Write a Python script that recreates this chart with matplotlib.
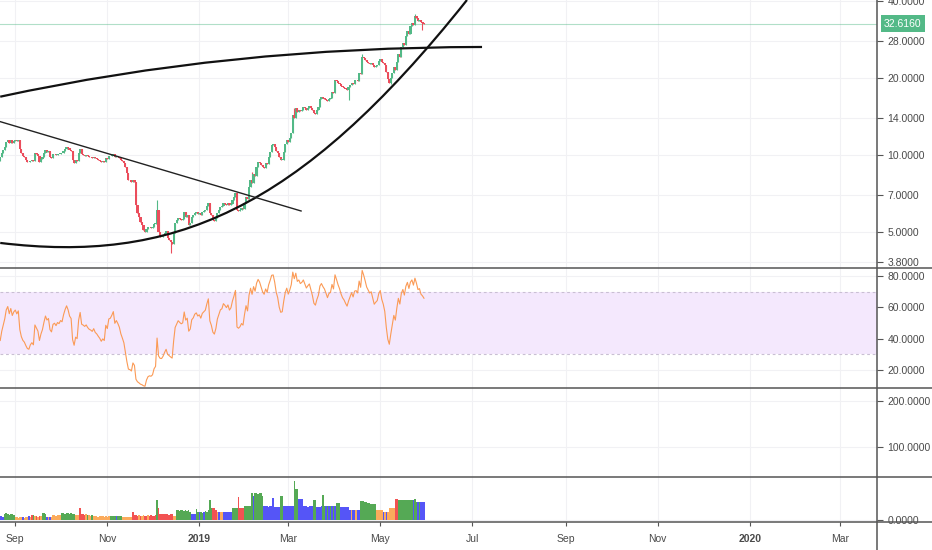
import numpy as np
import matplotlib
matplotlib.use('Agg')
import matplotlib.pyplot as plt
import matplotlib.dates as mdates
from matplotlib.path import Path
from matplotlib.patches import PathPatch
from matplotlib.lines import Line2D
from matplotlib.ticker import NullLocator, FixedLocator, FixedFormatter

plt.rcParams['font.family'] = ['Liberation Sans', 'DejaVu Sans']

# ---------------- data ----------------
start = np.datetime64('2018-08-22')

closes = [
    9.83, 10.19, 10.47, 10.76, 11.25, 11.45, 11.15, 11.45, 11.15, 11.35,
    11.45, 11.30, 11.45, 10.60, 10.19, 9.95, 9.83, 9.60, 9.40, 9.35,
    9.50, 9.57, 9.45, 10.19, 10.05, 9.90, 9.40, 9.65, 9.83, 10.15,
    10.45, 10.28, 10.35, 9.85, 9.74, 10.05, 10.10, 10.00, 10.12, 10.08,
    10.19, 10.15, 10.40, 10.60, 10.76, 10.65, 10.47, 10.40, 9.60, 9.31,
    9.57, 9.50, 10.20, 10.57, 10.05, 10.01, 9.95, 10.01, 9.90, 9.83,
    9.80, 9.75, 9.83, 9.70, 9.65, 9.57, 9.50, 9.40, 9.45, 9.40,
    9.74, 9.65, 9.90, 9.92, 10.00, 10.10, 9.83, 9.90, 9.83, 9.74,
    9.57, 9.45, 9.31, 8.98, 8.51, 7.99, 7.95, 7.84, 8.00, 7.84,
    6.40, 5.95, 5.73, 5.45, 5.33, 5.10, 5.00, 5.15, 5.23, 5.25,
    5.20, 5.23, 5.35, 5.40, 6.10, 5.00, 4.80, 4.78, 4.85, 4.96,
    5.05, 4.74, 4.65, 4.57, 4.50, 4.96, 5.42, 5.55, 5.68, 5.62,
    5.57, 5.60, 5.99, 5.73, 5.80, 5.33, 5.40, 5.73, 5.80, 5.94,
    5.99, 5.90, 5.94, 5.85, 6.00, 6.05, 6.10, 6.30, 6.49, 5.94,
    5.80, 5.57, 5.50, 5.65, 5.94, 6.10, 6.26, 6.30, 6.49, 6.45,
    6.40, 6.49, 6.38, 6.45, 6.67, 6.85, 7.09, 6.10, 6.05, 6.10,
    6.20, 6.15, 6.50, 6.85, 6.70, 7.50, 7.99, 7.80, 8.40, 8.25,
    8.98, 9.40, 9.31, 9.14, 8.98, 8.90, 9.31, 9.20, 9.83, 10.30,
    10.95, 11.00, 10.76, 10.40, 10.19, 9.80, 9.57, 9.60, 10.28, 11.00,
    11.45, 11.20, 11.60, 12.20, 14.34, 14.00, 15.20, 14.73, 15.00, 14.80,
    15.00, 15.41, 15.20, 15.00, 15.30, 15.55, 15.27, 15.00, 14.60, 14.50,
    15.00, 15.41, 16.50, 16.86, 16.71, 16.60, 16.41, 16.20, 16.60, 16.70,
    17.60, 17.40, 19.65, 19.40, 19.12, 18.90, 18.61, 18.40, 18.28, 18.10,
    17.95, 18.40, 18.78, 19.20, 19.00, 19.60, 19.65, 19.55, 21.00, 20.70,
    24.20, 23.90, 23.52, 23.10, 22.89, 22.70, 22.89, 22.50, 22.08, 22.30,
    22.48, 23.30, 23.73, 23.20, 22.89, 22.40, 21.11, 19.80, 19.12, 20.00,
    20.92, 22.00, 21.50, 23.10, 24.80, 24.20, 26.44, 27.41, 26.80, 29.20,
    30.50, 29.80, 31.94, 32.81, 32.20, 34.95, 34.32, 33.50, 33.80, 33.11,
    32.90, 32.616,
]
# closes before the visible window (only used to seed the RSI)
pre_closes = [11.2, 11.0, 11.3, 10.9, 10.6, 10.8, 10.4, 10.2, 10.5, 10.1,
              9.9, 10.2, 10.4, 10.1, 10.3, 10.0, 9.7, 9.5, 9.35, 9.45]
first_open = 9.45
wick_high = {104: 6.67, 167: 8.60, 275: 35.6, 195: 15.3, 240: 24.9}
wick_low = {113: 4.13, 231: 16.4, 280: 30.8, 259: 18.9}

volumes = [
    4, 4, 3, 6, 7, 6, 5, 6, 6, 5,
    3, 3, 2, 3, 3, 3, 2, 3, 3, 4,
    3, 5, 5, 4, 4, 3, 4, 4, 7, 7,
    6, 3, 3, 3, 3, 5, 5, 4, 5, 5,
    5, 7, 7, 6, 7, 7, 6, 7, 6, 6,
    5, 5, 5, 12, 6, 6, 5, 6, 5, 5,
    4, 5, 4, 4, 4, 3, 4, 4, 4, 3,
    4, 3, 4, 4, 4, 4, 4, 4, 4, 4,
    4, 3, 3, 3, 3, 3, 3, 3, 8, 5,
    5, 4, 5, 4, 4, 5, 4, 4, 5, 4,
    5, 4, 4, 5, 20, 12, 6, 6, 6, 6,
    6, 6, 5, 6, 6, 4, 4, 10, 10, 9,
    10, 10, 9, 10, 9, 10, 8, 6, 6, 6,
    11, 8, 8, 8, 7, 8, 9, 8, 10, 20,
    12, 12, 12, 10, 8, 8, 8, 8, 8, 8,
    8, 8, 8, 8, 12, 12, 12, 12, 23, 12,
    12, 12, 14, 14, 14, 14, 14, 27, 24, 27,
    27, 26, 27, 27, 24, 14, 14, 14, 13, 14,
    14, 22, 13, 13, 13, 13, 24, 24, 14, 14,
    14, 14, 14, 14, 14, 39, 31, 31, 21, 21,
    21, 14, 14, 14, 13, 14, 14, 14, 20, 20,
    13, 13, 13, 14, 25, 14, 14, 14, 14, 14,
    14, 14, 14, 17, 17, 17, 13, 13, 13, 13,
    13, 13, 10, 10, 10, 10, 10, 10, 10, 19,
    19, 19, 18, 18, 17, 17, 16, 16, 16, 16,
    10, 10, 10, 10, 8, 8, 8, 8, 12, 12,
    12, 12, 21, 21, 20, 20, 20, 20, 20, 20,
    20, 20, 20, 20, 20, 21, 18, 18, 18, 18,
    18, 18,
]
vol_colors = ("BBBGGGGGGG" "OOOOOBOOOB" "ORGOROROGG" "GBOBOOOOOO" "OGGGGGGGGG"
              "OOORRRROGO" "OGOOOOOOOO" "OOOGGGGBGG" "GOOOOOOORR" "RROROORROR"
              "RRRRGRRRRR" "RRRRROOGGG" "GGGGGGGBBB" "GGBGGBGGGG" "GRRROBOOBB"
              "BBBBGGGGRR" "RRGGGGGGBG" "GGGGGBBBBB" "BBBBBBGGBB" "BBBBBGGGBB"
              "BBBBBBBBGG" "BBBBGGBGBG" "BGBGGGBBBB" "BBBOBBOBBG" "GGGGGGGGGG"
              "OOOOBOBOOO" "OORRGGGGGG" "GGGGBGGBGB" "BB")

price_ticks = [40, 28, 20, 14, 10, 7, 5, 3.8]
price_labels = ['40.0000', '28.0000', '20.0000', '14.0000', '10.0000',
                '7.0000', '5.0000', '3.8000']
rsi_ticks = [80, 60, 40, 20]
rsi_labels = ['80.0000', '60.0000', '40.0000', '20.0000']
rsi_band = [30, 70]
pane3_ticks = [200, 100]
pane3_labels = ['200.0000', '100.0000']
vol_ticks = [0]
vol_labels = ['0.0000']
month_ticks = ['2018-09-01', '2018-11-01', '2019-01-01', '2019-03-01',
               '2019-05-01', '2019-07-01', '2019-09-01', '2019-11-01',
               '2020-01-01', '2020-03-01']
month_labels = ['Sep', 'Nov', '2019', 'Mar', 'May', 'Jul', 'Sep', 'Nov',
                '2020', 'Mar']
last_price = 32.616

# drawings (date, price anchors)
upper_arc_dates = ['2018-08-22T00:00', '2019-01-20T17:00', '2019-07-07T12:00']
upper_arc_prices = [16.9, 26.44, 26.44]
lower_arc_dates = ['2018-08-22T00:00', '2018-12-12T14:00', '2019-03-06T19:00',
                   '2019-06-27T12:00']
lower_arc_prices = [4.53, 3.77, 5.88, 40.36]
trend_dates = ['2018-08-22T00:00', '2019-03-09T12:00']
trend_prices = [13.5, 6.04]

# ---------------- styling ----------------
UP, DOWN = '#53b987', '#eb4d5c'
VOLC = {'G': '#55a955', 'R': '#f25252', 'B': '#5555f7', 'O': '#fbab5c'}
TXT = '#4a4a4a'
SEP = '#555555'
GRID = '#f1f1f4'
FS = 7.5

W, H = 932, 550
fig = plt.figure(figsize=(W / 100, H / 100), dpi=100)
fig.patch.set_facecolor('white')


def rect(x0, y0, x1, y1):
    return [x0 / W, 1 - y1 / H, (x1 - x0) / W, (y1 - y0) / H]


ax_p = fig.add_axes(rect(0, 0, 877, 268))
ax_r = fig.add_axes(rect(0, 268, 877, 388))
ax_e = fig.add_axes(rect(0, 388, 877, 477))
ax_v = fig.add_axes(rect(0, 477, 877, 522))
axes = [ax_p, ax_r, ax_e, ax_v]

n = len(closes)
dates = start + np.arange(n).astype('timedelta64[D]')
xnum = mdates.date2num(dates)
x0 = mdates.date2num(start)
xlim = (x0 - 0.146, x0 + 581.4)
mt = mdates.date2num(np.array(month_ticks, dtype='datetime64[D]'))

for ax in axes:
    ax.set_facecolor('none')
    for s in ax.spines.values():
        s.set_visible(False)
    ax.set_xlim(*xlim)
    ax.xaxis.set_major_locator(FixedLocator(mt))
    ax.xaxis.set_minor_locator(NullLocator())
    ax.yaxis.tick_right()
    ax.tick_params(axis='y', which='both', left=False, labelleft=False,
                   right=True, labelright=True, length=4, width=0.8,
                   color=SEP, pad=3.5, labelsize=FS, labelcolor=TXT)
    ax.grid(True, color=GRID, lw=0.8, zorder=0)
    ax.set_axisbelow(True)

for ax in axes[:-1]:
    ax.tick_params(axis='x', length=0, labelbottom=False)

# ---------------- price pane ----------------
ax_p.set_yscale('log')
ax_p.set_ylim(3.615, 40.36)
ax_p.yaxis.set_major_locator(FixedLocator(price_ticks))
ax_p.yaxis.set_major_formatter(FixedFormatter(price_labels))
ax_p.yaxis.set_minor_locator(NullLocator())

opens = [first_open] + closes[:-1]
o = np.array(opens)
c = np.array(closes)
up = c >= o
cols = np.where(up, UP, DOWN)
hi = np.maximum(o, c)
lo = np.minimum(o, c)
body_bot = lo.copy()
body_h = np.maximum(hi - lo, c * 0.004)
for k, v in wick_high.items():
    hi[k] = max(hi[k], v)
for k, v in wick_low.items():
    lo[k] = min(lo[k], v)
ax_p.vlines(xnum, lo, hi, colors=cols, lw=0.8, zorder=3)
ax_p.bar(xnum, body_h, bottom=body_bot, width=1.45,
         color=cols, linewidth=0, zorder=3)

ax_p.axhline(last_price, color=UP, alpha=0.45, lw=0.8, zorder=2)
ax_p.annotate(f'{last_price:.4f}', xy=(1, last_price),
              xycoords=('axes fraction', 'data'), xytext=(5.0, 0),
              textcoords='offset points', ha='left', va='center',
              fontsize=FS, color='white', annotation_clip=False,
              bbox=dict(boxstyle='square,pad=0.32', fc=UP, ec='none'),
              zorder=10)

# drawings
ua = mdates.date2num(np.array(upper_arc_dates, dtype='datetime64[m]'))
path_u = Path(np.column_stack([ua, upper_arc_prices]),
              [Path.MOVETO, Path.CURVE3, Path.CURVE3])
ax_p.add_patch(PathPatch(path_u, fc='none', ec='#111111', lw=1.6, zorder=5))
la = mdates.date2num(np.array(lower_arc_dates, dtype='datetime64[m]'))
path_l = Path(np.column_stack([la, lower_arc_prices]),
              [Path.MOVETO, Path.CURVE4, Path.CURVE4, Path.CURVE4])
ax_p.add_patch(PathPatch(path_l, fc='none', ec='#111111', lw=1.6, zorder=5))
td = mdates.date2num(np.array(trend_dates, dtype='datetime64[m]'))
ax_p.plot(td, trend_prices, color='#222222', lw=1.0, zorder=5)

# ---------------- RSI pane ----------------
allc = np.array(pre_closes + closes)
delta = np.diff(allc)
gain = np.clip(delta, 0, None)
loss = np.clip(-delta, 0, None)
period = 14
ag = gain[:period].mean()
al = loss[:period].mean()
rsi_all = [np.nan] * (period + 1)
for i in range(period, len(delta)):
    ag = (ag * (period - 1) + gain[i]) / period
    al = (al * (period - 1) + loss[i]) / period
    rs = ag / al if al > 0 else np.inf
    rsi_all.append(100 - 100 / (1 + rs))
rsi = np.array(rsi_all[len(pre_closes):len(pre_closes) + n])

ax_r.set_ylim(8.51, 85.1)
ax_r.yaxis.set_major_locator(FixedLocator(rsi_ticks))
ax_r.yaxis.set_major_formatter(FixedFormatter(rsi_labels))
ax_r.axhspan(rsi_band[0], rsi_band[1], color='#f4e8fd', zorder=1, lw=0)
for lvl in rsi_band:
    ax_r.axhline(lvl, color='#c9bfd3', lw=0.8, ls=(0, (2.5, 2.5)), zorder=2)
ax_r.plot(xnum, rsi, color='#fb9a55', lw=0.8, zorder=4)

# ---------------- empty pane ----------------
ax_e.set_ylim(34.8, 228.3)
ax_e.yaxis.set_major_locator(FixedLocator(pane3_ticks))
ax_e.yaxis.set_major_formatter(FixedFormatter(pane3_labels))

# ---------------- volume pane ----------------
ax_v.set_ylim(-2.5, 42.5)
ax_v.yaxis.set_major_locator(FixedLocator(vol_ticks))
ax_v.yaxis.set_major_formatter(FixedFormatter(vol_labels))
vcols = [VOLC[ch] for ch in vol_colors[:n]]
ax_v.bar(xnum, volumes, width=1.0, color=vcols, linewidth=0, zorder=3)
ax_v.xaxis.set_major_formatter(FixedFormatter(month_labels))
ax_v.tick_params(axis='x', length=3, width=0.8, color=SEP, pad=5.5,
                 labelsize=FS, labelcolor=TXT)
for lab in ax_v.get_xticklabels():
    if lab.get_text() in ('2019', '2020'):
        lab.set_fontweight('bold')

# ---------------- separators ----------------
for yy in (268, 388, 477, 522):
    fig.add_artist(Line2D([0, 1], [1 - yy / H] * 2, transform=fig.transFigure,
                          color=SEP, lw=1.1))
fig.add_artist(Line2D([877 / W] * 2, [0, 1], transform=fig.transFigure,
                      color=SEP, lw=1.1))

fig.savefig('out.png', dpi=100)
